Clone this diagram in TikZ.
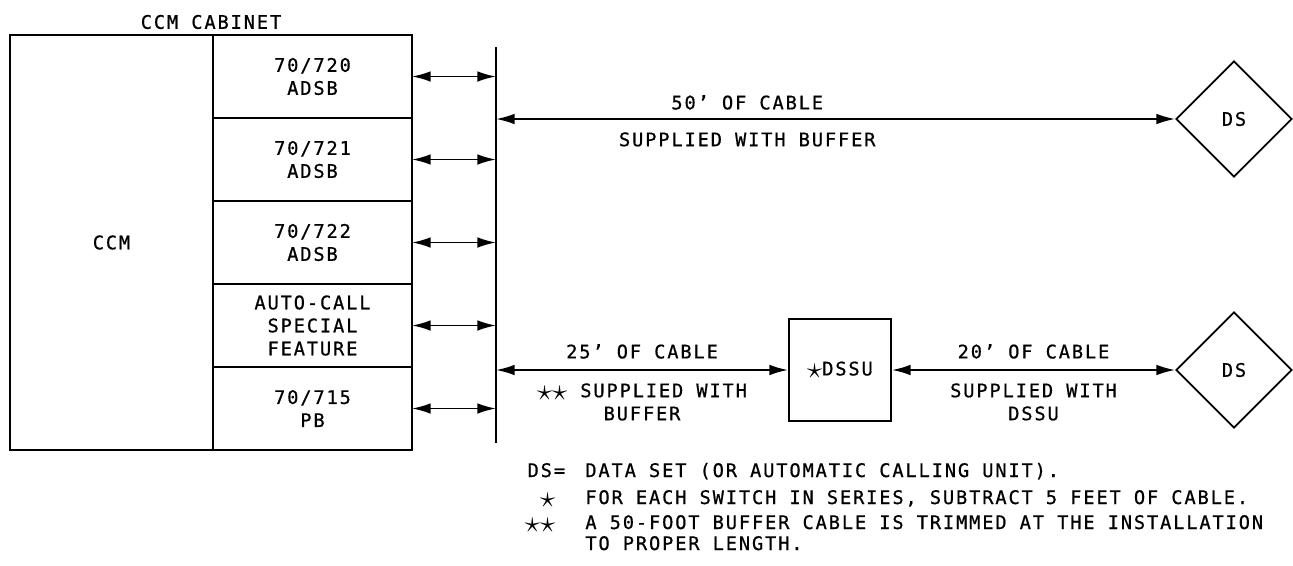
\documentclass[tikz,border=0pt]{standalone}
\usepackage{fontspec}
\setmainfont{DejaVu Sans Mono}[LetterSpace=10, FakeBold=0.7]
\usetikzlibrary{shapes,arrows.meta,positioning,calc}
\newcommand\sstar{\raisebox{-0.3ex}{\scalebox{1.6}{$\star$}}}

\begin{document}
\begin{tikzpicture}[
  x=0.75pt, y=-0.75pt,
  font=\fontsize{14}{17.25}\selectfont,
  compart/.style={rectangle, draw, minimum width=152.25pt, minimum height=311.25pt,
                  inner sep=0pt, outer sep=0pt},
  slot/.style={rectangle, draw, minimum width=149.25pt, minimum height=62.25pt,
               inner sep=0pt, outer sep=0pt, align=center},
  dset/.style={diamond, draw, aspect=1, minimum width=87pt, minimum height=87pt,
               inner sep=0pt},
  unit/.style={rectangle, draw, minimum width=76.5pt, minimum height=76.5pt},
  notekey/.style={anchor=base east, inner sep=0pt},
  notetext/.style={anchor=base west},
  cable/.style={<->},
  >={Latex[length=14pt,width=8pt]}, line width=1.4pt,
]
  \useasboundingbox (0,0) rectangle (1293,565);

  \node[compart, anchor=north west] (ccm) at (10,35) {CCM};
  \node[slot, anchor=north west] (s720) at (ccm.north east) {70/720\\ADSB};
  \node[slot, below=0pt of s720] (s721) {70/721\\ADSB};
  \node[slot, below=0pt of s721] (s722) {70/722\\ADSB};
  \node[slot, below=0pt of s722] (sauto) {AUTO-CALL\\SPECIAL\\FEATURE};
  \node[slot, below=0pt of sauto] (s715) {70/715\\PB};
  \node (cabinet) at (211,22) {CCM CABINET};

  \coordinate (bustop) at (496,47);
  \coordinate (busbot) at (496,443);
  \draw (bustop) -- (busbot);
  \foreach \s in {s720,s721,s722,sauto,s715}
    \draw[cable] (\s.east) -- (\s.east -| bustop);

  \node[dset] (ds1) at (1234,119) {DS};
  \node[unit] (dssu) at (840,370) {\sstar DSSU};
  \node[dset] (ds2) at (1234,370) {DS};

  \draw[cable] (ds1.west -| bustop) --
    node[pos=0.37, above=3pt] {50' OF CABLE}
    node[pos=0.37, below=6pt] {SUPPLIED WITH BUFFER} (ds1.west);
  \draw[cable] (dssu.west -| bustop) --
    node[above=4.5pt] {25' OF CABLE}
    node[below=6pt, align=center] {\sstar\sstar\ SUPPLIED WITH\\BUFFER} (dssu.west);
  \draw[cable] (dssu.east) --
    node[above=4.5pt] {20' OF CABLE}
    node[below=6pt, align=center] {SUPPLIED WITH\\DSSU} (ds2.west);

  \node[notekey] (kds) at (566,477) {DS=};
  \node[notetext] (nds) at (580,477) {DATA SET (OR AUTOMATIC CALLING UNIT).};
  \node[notekey] (kone) at (556,504) {\sstar};
  \node[notetext] (none) at (580,504) {FOR EACH SWITCH IN SERIES, SUBTRACT 5 FEET OF CABLE.};
  \node[notekey] (ktwo) at (556,529) {\sstar\sstar};
  \node[notetext] (ntwo) at (580,529) {A 50-FOOT BUFFER CABLE IS TRIMMED AT THE INSTALLATION};
  \node[notetext] (nthree) at (580,550) {TO PROPER LENGTH.};
\end{tikzpicture}
\end{document}
